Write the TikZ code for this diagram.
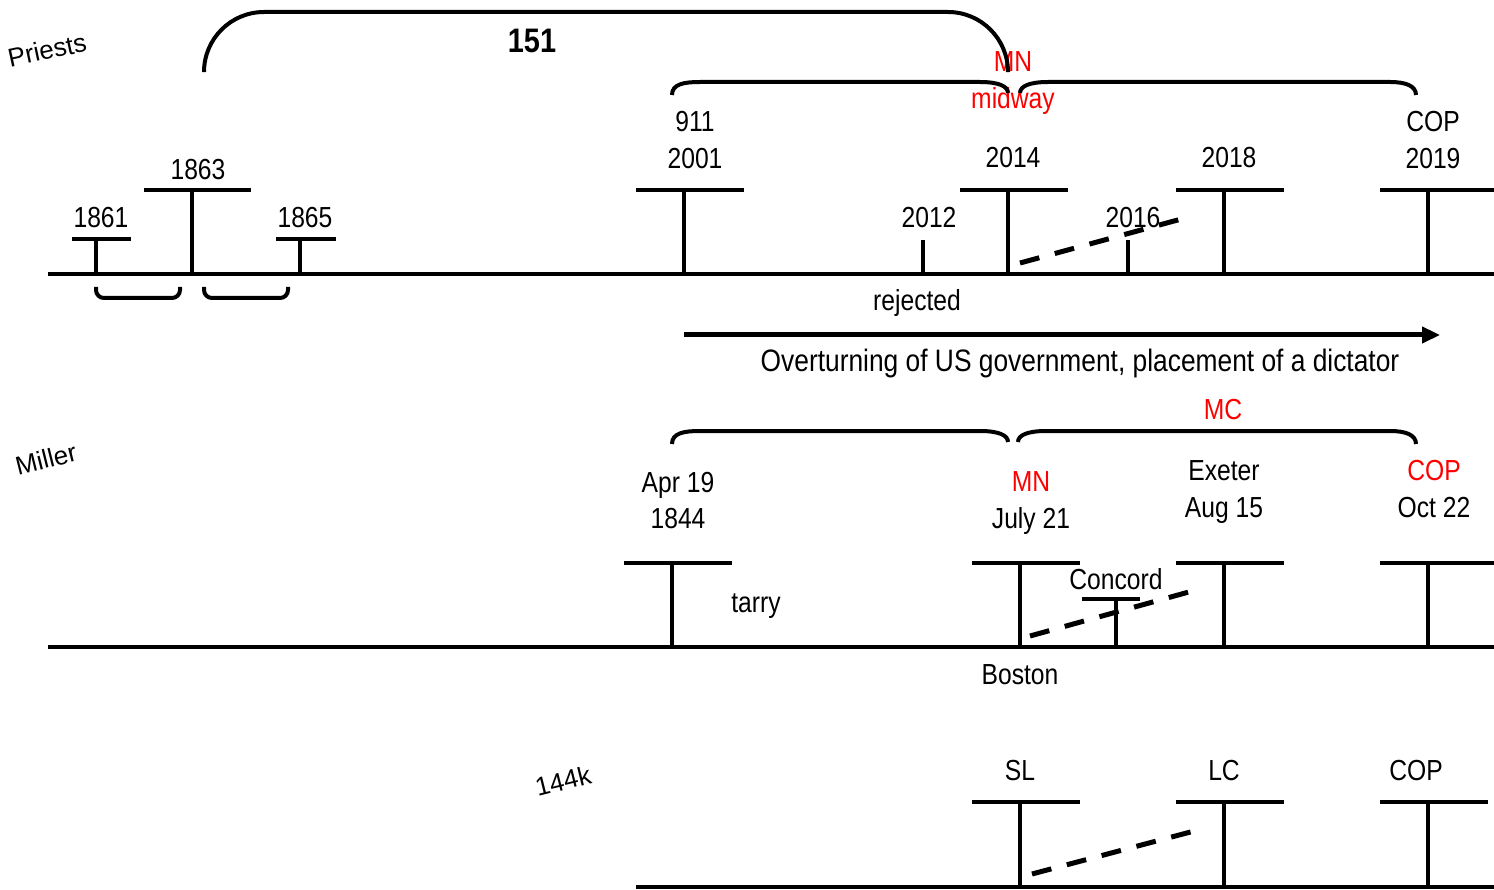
\documentclass[tikz,border=0pt]{standalone}
\usepackage{fontspec}
\setmainfont{Liberation Sans}[FakeStretch=0.85]
\newfontfamily\rowfont{Liberation Sans}
\usetikzlibrary{arrows.meta,positioning,calc}
\definecolor{mnred}{RGB}{255,0,0}

\begin{document}
\begin{tikzpicture}[x=1pt,y=-1pt,
    rail/.style={line width=4.5pt},
    post/.style={line width=4pt},
    link/.style={line width=5pt,dash pattern=on 20pt off 16pt},
    span/.style={line width=4pt},
    yr/.style={font=\fontsize{29}{35}\selectfont,inner sep=0pt,anchor=base},
    hot/.style={yr,text=mnred},
    who/.style={font=\rowfont\fontsize{26}{30}\selectfont,inner sep=0pt}]
  \useasboundingbox (0,0) rectangle (1494,890);

  % Priests
  \node[who,rotate=12] (priests) at (47,50) {Priests};
  \coordinate (pA) at (48,274);
  \coordinate (pB) at (1494,274);
  \draw[rail] (pA) -- (pB);
  \foreach \n/\x/\t/\l/\r in {p1861/96/239/24/35, p1863/192/190/48/59, p1865/300/239/24/36,
      p2001/684/190/48/60, p2014/1008/190/48/60, p2018/1224/190/48/60, p2019/1428/190/48/66}
  {
    \coordinate (\n) at (\x,274);
    \coordinate (\n-top) at (\x,\t);
    \draw[post] (\n) -- (\n-top);
    \draw[post] ([xshift=-\l pt]\n-top) -- ([xshift=\r pt]\n-top);
  }
  \foreach \n/\x in {p2012/923, p2016/1128}
  {
    \coordinate (\n) at (\x,274);
    \coordinate (\n-top) at (\x,240);
    \draw[post] (\n) -- (\n-top);
  }
  \foreach \n/\x/\y/\t in {t1861/101/228/1861, t1863/198/180/1863, t1865/305/228/1865,
      t911/695/132/911, t2001/695/169/2001, t2012/929/228/2012, t2014/1013/168/2014,
      t2016/1133/228/2016, t2018/1229/168/2018, tcop/1433/132/COP, t2019/1433/169/2019,
      trej/917/311/rejected}
    \node[yr] (\n) at (\x,\y) {\t};
  \node[hot] (pmn) at (1013,72) {MN};
  \node[hot] (pmid) at (1013,109) {midway};
  \node[yr,font=\fontsize{34}{40}\selectfont\bfseries] (n151) at (532,53) {151};

  \draw[span,rounded corners=60pt] (204,70) -- (204,12) -- (1008,12) -- (1008,70);
  \draw[span] (672,95) .. controls (672,84) and (684,82) .. (700,82) -- (980,82)
    .. controls (998,82) and (1008,86) .. (1008,93);
  \draw[span] (1020,93) .. controls (1020,86) and (1030,82) .. (1048,82) -- (1390,82)
    .. controls (1406,82) and (1416,86) .. (1416,95);
  \draw[span,rounded corners=8pt] (96,287) -- (96,298) -- (180,298) -- (180,287);
  \draw[span,rounded corners=8pt] (204,287) -- (204,298) -- (288,298) -- (288,287);

  \coordinate (pd1) at (1020,263);
  \coordinate (pd2) at (1185,218);
  \draw[link] (pd1) -- (pd2);

  \coordinate (ovA) at (684,335);
  \coordinate (ovB) at (1440,335);
  \draw[line width=5pt,-{Triangle[length=18pt,width=16pt]}] (ovA) -- (ovB);
  \node[yr,font=\fontsize{31}{37}\selectfont] (coup) at (1080,372) {Overturning of US government, placement of a dictator};

  % Miller
  \node[who,rotate=14] (miller) at (46,459) {Miller};
  \coordinate (mA) at (48,647);
  \coordinate (mB) at (1494,647);
  \draw[rail] (mA) -- (mB);
  \foreach \n/\x/\t/\l/\r in {m1844/672/563/48/60, mjuly/1020/563/48/60, mconc/1116/599/34/24,
      maug/1224/563/48/60, moct/1428/563/48/66}
  {
    \coordinate (\n) at (\x,647);
    \coordinate (\n-top) at (\x,\t);
    \draw[post] (\n) -- (\n-top);
    \draw[post] ([xshift=-\l pt]\n-top) -- ([xshift=\r pt]\n-top);
  }
  \foreach \n/\x/\y/\t in {tapr/678/492/Apr 19, t1844/678/528/1844, ttarry/756/612/tarry,
      tjuly/1031/528/July 21, texe/1224/480/Exeter, taug/1224/517/Aug 15,
      toct/1434/517/Oct 22, tconc/1116/589/Concord, tbos/1020/684/Boston}
    \node[yr] (\n) at (\x,\y) {\t};
  \node[hot] (mmn) at (1031,491) {MN};
  \node[hot] (mcop) at (1434,480) {COP};
  \node[hot] (mmc) at (1223,420) {MC};

  \draw[span] (672,444) .. controls (672,433) and (684,431) .. (700,431) -- (980,431)
    .. controls (998,431) and (1008,435) .. (1008,442);
  \draw[span] (1018,442) .. controls (1018,435) and (1028,431) .. (1046,431) -- (1390,431)
    .. controls (1406,431) and (1416,435) .. (1416,444);

  \coordinate (md1) at (1030,636);
  \coordinate (md2) at (1196,590);
  \draw[link] (md1) -- (md2);

  % 144k
  \node[who,rotate=14] (k144) at (563,781) {144k};
  \coordinate (kA) at (636,887);
  \coordinate (kB) at (1494,887);
  \draw[rail] (kA) -- (kB);
  \foreach \n/\x in {ksl/1020, klc/1224, kcop/1428}
  {
    \coordinate (\n) at (\x,887);
    \coordinate (\n-top) at (\x,802);
    \draw[post] (\n) -- (\n-top);
    \draw[post] ([xshift=-48pt]\n-top) -- ([xshift=60pt]\n-top);
  }
  \foreach \n/\x/\t in {tsl/1020/SL, tlc/1224/LC, tkcop/1416/COP}
    \node[yr] (\n) at (\x,780) {\t};

  \coordinate (kd1) at (1032,874);
  \coordinate (kd2) at (1198,830);
  \draw[link] (kd1) -- (kd2);
\end{tikzpicture}
\end{document}
